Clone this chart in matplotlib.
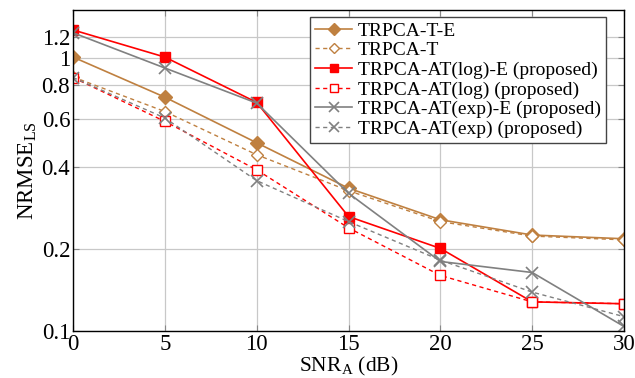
import matplotlib.pyplot as plt
from matplotlib.ticker import NullLocator

plt.rcParams['font.family'] = ['Liberation Serif', 'DejaVu Serif']
plt.rcParams['mathtext.fontset'] = 'custom'
plt.rcParams['mathtext.rm'] = 'Liberation Serif'

snr = [0, 5, 10, 15, 20, 25, 30]

t_e = [1.01, 0.72, 0.49, 0.334, 0.256, 0.225, 0.218]
t_plain = [0.854, 0.638, 0.443, 0.327, 0.252, 0.223, 0.216]
log_e = [1.27, 1.01, 0.689, 0.263, 0.201, 0.128, 0.126]
log_plain = [0.85, 0.587, 0.39, 0.239, 0.16, 0.128, 0.126]
exp_e = [1.24, 0.921, 0.685, 0.32, 0.18, 0.164, 0.104]
exp_plain = [0.85, 0.604, 0.356, 0.252, 0.182, 0.139, 0.113]

yticks = [0.1, 0.2, 0.4, 0.6, 0.8, 1, 1.2]
ytick_labels = ['0.1', '0.2', '0.4', '0.6', '0.8', '1', '1.2']

brown = '#BF8040'
red = '#FF0000'
gray = '#808080'
dash = (3, 2.5)

fig = plt.figure(figsize=(6.35, 3.78), dpi=100)
ax = fig.add_axes([0.115, 0.124, 0.8677, 0.849])

ax.plot(snr, t_e, '-', color=brown, marker='D', ms=7.5, lw=1.2, label='TRPCA-T-E')
ax.plot(snr, t_plain, color=brown, dashes=dash, marker='D', ms=6.5, mfc='white', lw=1.0, label='TRPCA-T')
ax.plot(snr, log_e, '-', color=red, marker='s', ms=7, lw=1.2, label='TRPCA-AT(log)-E (proposed)')
ax.plot(snr, log_plain, color=red, dashes=dash, marker='s', ms=6.5, mfc='white', lw=1.0, label='TRPCA-AT(log) (proposed)')
ax.plot(snr, exp_e, '-', color=gray, marker='x', ms=8, mew=1.2, lw=1.2, label='TRPCA-AT(exp)-E (proposed)')
ax.plot(snr, exp_plain, color=gray, dashes=dash, marker='x', ms=8, mew=1.2, lw=1.0, label='TRPCA-AT(exp) (proposed)')

ax.set_yscale('log')
ax.set_xlim(0, 30)
ax.set_ylim(0.1, 1.5)
ax.set_xticks([0, 5, 10, 15, 20, 25, 30])
ax.set_yticks(yticks)
ax.set_yticklabels(ytick_labels)
ax.yaxis.set_minor_locator(NullLocator())
ax.tick_params(direction='in', top=True, right=True, labelsize=16.5, length=4, color='#888888', pad=2)
ax.grid(True, color='#c8c8c8', lw=0.9)
for s in ax.spines.values():
    s.set_linewidth(1.0)

ax.set_xlabel('SNR$_{\\mathrm{A}}$ (dB)', fontsize=15.5, labelpad=0)
ax.set_ylabel('NRMSE$_{\\mathrm{LS}}$', fontsize=16.5, labelpad=2)

leg = ax.legend(loc='upper right', fontsize=14, handlelength=1.9, labelspacing=0.1,
                borderpad=0.25, handletextpad=0.3, borderaxespad=0, fancybox=False, framealpha=1,
                edgecolor='#444444', bbox_to_anchor=(0.967, 0.978), markerscale=0.85)
leg.get_frame().set_linewidth(1.0)

fig.savefig('out.png', dpi=100)
